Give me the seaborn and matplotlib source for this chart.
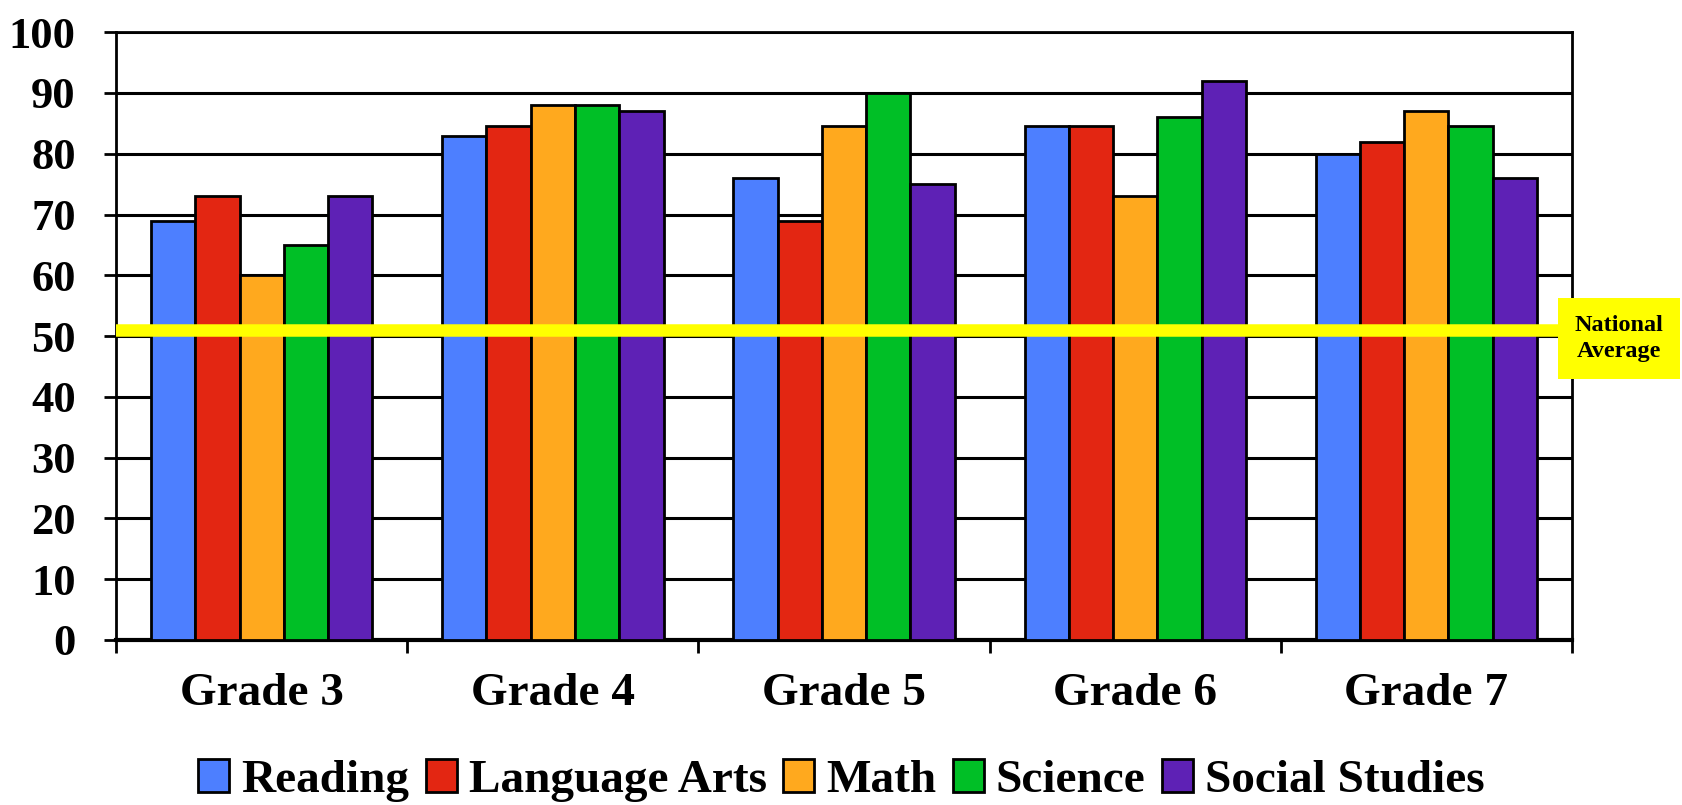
import matplotlib
matplotlib.use("Agg")
import matplotlib.pyplot as plt
import pandas as pd
import seaborn as sns

grades = ["Grade 3", "Grade 4", "Grade 5", "Grade 6", "Grade 7"]
subjects = ["Reading", "Language Arts", "Math", "Science", "Social Studies"]
reading = [69, 83, 76, 84.5, 80]
language_arts = [73, 84.5, 69, 84.5, 82]
math = [60, 88, 84.5, 73, 87]
science = [65, 88, 90, 86, 84.5]
social_studies = [73, 87, 75, 92, 76]
national_average = 51
colors = ["#4D7FFF", "#E32612", "#FFA91E", "#00BF26", "#5E21B5"]

rows = []
for subj, vals in zip(subjects, [reading, language_arts, math, science, social_studies]):
    for g, v in zip(grades, vals):
        rows.append({"grade": g, "score": v, "subject": subj})
df = pd.DataFrame(rows)

sns.set_theme(style="white")
plt.rcParams["font.family"] = ["Liberation Serif", "DejaVu Serif"]
plt.rcParams["font.weight"] = "bold"
plt.rcParams["text.color"] = "black"
plt.rcParams["xtick.color"] = "black"
plt.rcParams["ytick.color"] = "black"

fig = plt.figure(figsize=(16.83, 8.05), dpi=100)
ax = fig.add_axes([0.069, 0.205, 0.865, 0.755])

sns.barplot(data=df, x="grade", y="score", hue="subject", order=grades,
            hue_order=subjects, palette=colors, saturation=1, width=0.76,
            edgecolor="black", linewidth=2, ax=ax, zorder=3)

ax.set_ylim(0, 100)
ax.set_xlim(-0.5, 4.5)
ax.set_yticks(range(0, 101, 10))
ax.yaxis.grid(True, color="black", linewidth=2.2)
ax.set_axisbelow(True)
ax.set_xlabel("")
ax.set_ylabel("")

for s in ["left", "right", "top"]:
    ax.spines[s].set_visible(True)
    ax.spines[s].set_color("black")
    ax.spines[s].set_linewidth(2)
ax.spines["bottom"].set_color("black")
ax.spines["bottom"].set_linewidth(3)

ax.set_xticks(range(len(grades)))
ax.set_xticklabels(grades)
ax.set_xticks([i - 0.5 for i in range(len(grades) + 1)], minor=True)
ax.tick_params(axis="x", which="major", length=0, pad=24, labelsize=34,
               labelcolor="black")
ax.tick_params(axis="x", which="minor", length=9, width=2, color="black",
               direction="out", bottom=True)
ax.tick_params(axis="y", length=9, width=2, color="black", direction="out",
               left=True, pad=20, labelsize=32, labelcolor="black")
for lab in ax.get_xticklabels() + ax.get_yticklabels():
    lab.set_fontweight("bold")

ax.axhline(national_average, color="#FFFF00", linewidth=9, zorder=5)
fig.text(0.962, 0.58, "National\nAverage", ha="center", va="center",
         fontsize=17.5, fontweight="bold", linespacing=1.3, color="black",
         bbox=dict(boxstyle="square,pad=0.7", facecolor="#FFFF00",
                   edgecolor="none"), zorder=6)

handles, labels = ax.get_legend_handles_labels()
ax.get_legend().remove()
leg = fig.legend(handles, labels, loc="center", bbox_to_anchor=(0.5, 0.03),
                 ncol=5, frameon=False, handlelength=0.66, handleheight=0.68,
                 handletextpad=0.25, columnspacing=0.35,
                 prop={"size": 34, "weight": "bold"})
for t in leg.get_texts():
    t.set_color("black")

fig.savefig("out.png", dpi=100)
